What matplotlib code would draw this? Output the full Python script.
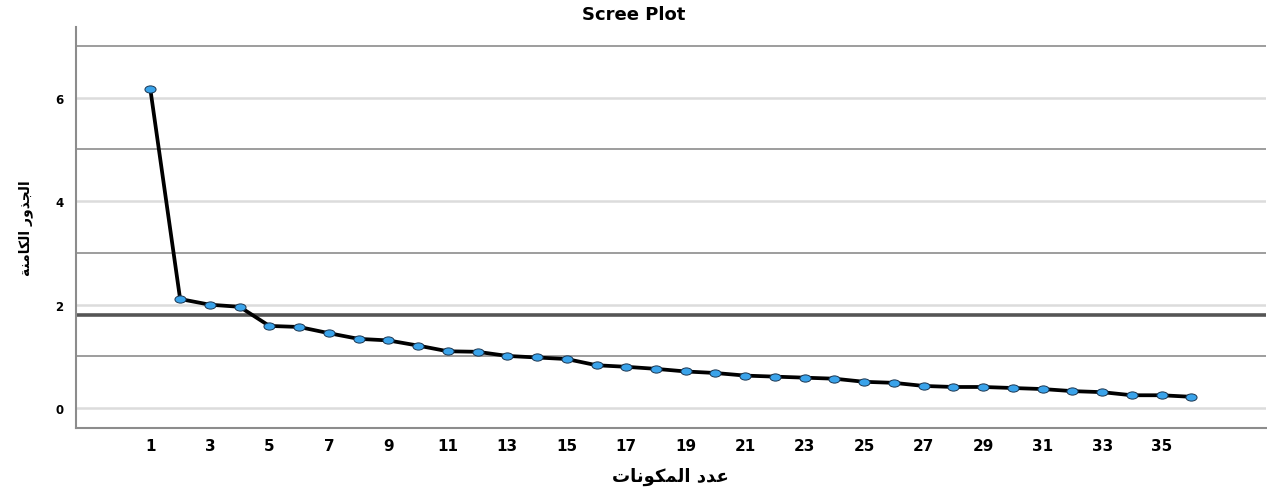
import matplotlib
matplotlib.use("Agg")
import matplotlib.pyplot as plt
from matplotlib.path import Path
from matplotlib.transforms import Affine2D

# eigenvalues
components = list(range(1, 37))
eigenvalues = [6.16, 2.11, 2.00, 1.96, 1.59, 1.57, 1.45, 1.34, 1.31, 1.21,
               1.10, 1.09, 1.01, 0.98, 0.95, 0.83, 0.80, 0.76, 0.71, 0.68,
               0.63, 0.61, 0.59, 0.57, 0.51, 0.49, 0.43, 0.41, 0.41, 0.39,
               0.37, 0.33, 0.31, 0.25, 0.25, 0.22]
x_ticks = list(range(1, 36, 2))
y_ticks = [0, 2, 4, 6]
light_grid = [0, 2, 4, 6]
dark_grid = [1, 3, 5, 7]
ref_line = 1.8

# Arabic labels in presentation forms, visual order (no shaping in matplotlib)
x_label = "\uFE95\uFE8E\uFEE7\uFEEE\uFEDC\uFEE4\uFEDF\uFE8D \uFEA9\uFEAA\uFECB"   # عدد المكونات
y_label = "\uFE94\uFEE8\uFEE3\uFE8E\uFEDC\uFEDF\uFE8D \uFEAD\uFEED\uFEAC\uFEA0\uFEDF\uFE8D"  # الجذور الكامنة

# the reference is stretched sideways, so the dots come out as flat ovals
oval = Path.unit_circle().transformed(Affine2D().scale(1.0, 0.65))

fig = plt.figure(figsize=(12.67, 4.89), dpi=100)
ax = fig.add_axes([0.060, 0.123, 0.939, 0.820])

for v in light_grid:
    ax.axhline(v, color="#dcdcdc", lw=1.8, zorder=1)
for v in dark_grid:
    ax.axhline(v, color="#8c8c8c", lw=1.2, zorder=1)
ax.axhline(ref_line, color="#555555", lw=2.6, zorder=1)

ax.plot(components, eigenvalues, color="black", lw=2.7, zorder=3,
        marker=oval, markersize=8, markerfacecolor="#3aa3ea",
        markeredgecolor="#1a3550", markeredgewidth=0.7)

ax.set_xlim(-1.5, 38.5)
ax.set_ylim(-0.38, 7.37)
ax.set_xticks(x_ticks)
ax.set_yticks(y_ticks)
ax.tick_params(axis="both", length=0)
ax.tick_params(axis="x", pad=7.5)
ax.tick_params(axis="y", pad=9)
for lab in ax.get_xticklabels():
    lab.set_fontfamily("DejaVu Sans")
    lab.set_fontweight("bold")
    lab.set_fontsize(11)
for lab in ax.get_yticklabels():
    lab.set_fontfamily("DejaVu Sans")
    lab.set_fontweight("bold")
    lab.set_fontsize(8.5)

for side in ["top", "right"]:
    ax.spines[side].set_visible(False)
for side in ["left", "bottom"]:
    ax.spines[side].set_color("#8c8c8c")
    ax.spines[side].set_linewidth(1.5)

fig.text(0.5, 0.969, "Scree Plot", fontfamily="DejaVu Sans",
         fontweight="bold", fontsize=13, ha="center", va="center")
fig.text(0.529, 0.024, x_label, fontfamily="DejaVu Sans", fontweight="bold",
         fontsize=13, ha="center", va="center")
fig.text(0.020, 0.534, y_label, fontfamily="DejaVu Sans", fontweight="bold",
         fontsize=10, rotation=90, ha="center", va="center")

fig.savefig("out.png", dpi=100)
